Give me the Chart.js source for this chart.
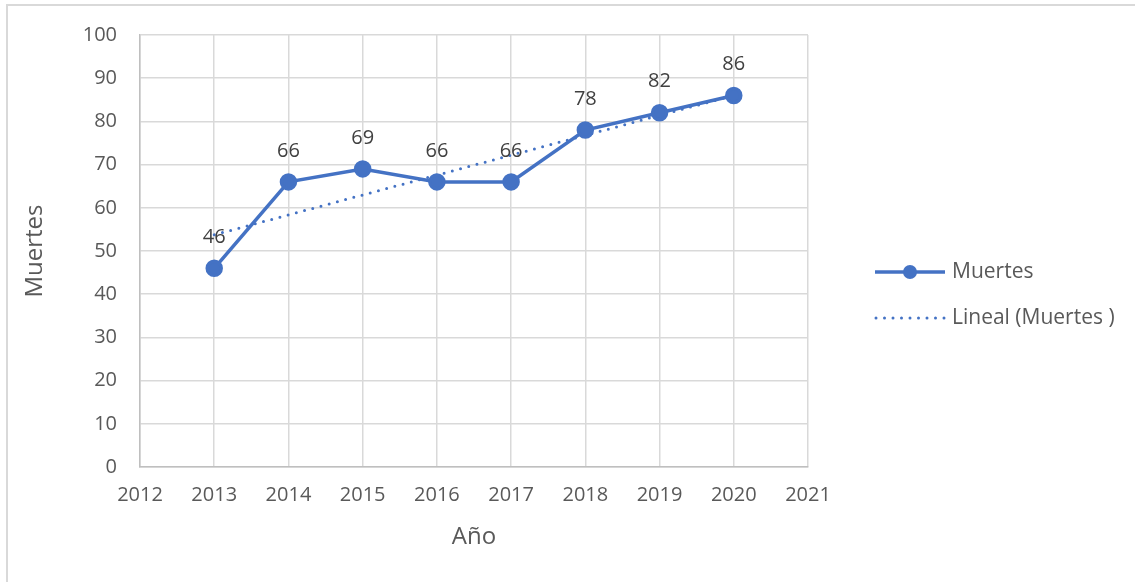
<!DOCTYPE html>
<html>
<head>
<meta charset="utf-8">
<script src="https://cdn.jsdelivr.net/npm/chart.js@4.4.1/dist/chart.umd.min.js"></script>
<style>
  html, body { margin: 0; padding: 0; background: #fff; }
  #wrap { width: 1135px; height: 582px; position: relative; }
</style>
</head>
<body>
<div id="wrap"><canvas id="chart" width="1135" height="582"></canvas></div>
<script>
// data
const years = [2013, 2014, 2015, 2016, 2017, 2018, 2019, 2020];
const muertes = [46, 66, 69, 66, 66, 78, 82, 86];
// linear trend endpoints (Excel "Lineal")
const trendYears = [2013, 2020];
const trendValues = [53.75, 86];

const blue = '#4472C4';
const textColor = '#595959';
const gridColor = '#d9d9d9';
const fontFamily = "'Open Sans', 'Liberation Sans', sans-serif";

const frame = {
    id: 'frame',
    beforeDraw(chart) {
        const ctx = chart.ctx;
        ctx.save();
        ctx.fillStyle = '#fff';
        ctx.fillRect(0, 0, chart.width, chart.height);
        ctx.strokeStyle = gridColor;
        ctx.lineWidth = 2;
        ctx.beginPath();
        ctx.moveTo(7, chart.height);
        ctx.lineTo(7, 5);
        ctx.lineTo(chart.width, 5);
        ctx.stroke();
        ctx.restore();
    }
};

// value labels above each point
const pointLabels = {
    id: 'pointLabels',
    afterDatasetsDraw(chart) {
        const ctx = chart.ctx;
        const meta = chart.getDatasetMeta(0);
        ctx.save();
        ctx.font = '20px ' + fontFamily;
        ctx.fillStyle = '#404040';
        ctx.textAlign = 'center';
        ctx.textBaseline = 'middle';
        meta.data.forEach((pt, i) => {
            ctx.fillText(String(muertes[i]), pt.x, pt.y - 31);
        });
        ctx.restore();
    }
};

// legend drawn at the right, Excel style
const sideLegend = {
    id: 'sideLegend',
    afterDraw(chart) {
        const ctx = chart.ctx;
        const x0 = 875, x1 = 945, tx = 952;
        ctx.save();
        ctx.font = '21px ' + fontFamily;
        ctx.fillStyle = textColor;
        ctx.textBaseline = 'middle';

        let y = 272;
        ctx.strokeStyle = blue;
        ctx.lineWidth = 3.5;
        ctx.beginPath();
        ctx.moveTo(x0, y);
        ctx.lineTo(x1, y);
        ctx.stroke();
        ctx.fillStyle = blue;
        ctx.beginPath();
        ctx.arc((x0 + x1) / 2, y, 7, 0, Math.PI * 2);
        ctx.fill();
        ctx.fillStyle = textColor;
        ctx.fillText(chart.data.datasets[0].label, tx, y);

        y = 318;
        ctx.lineWidth = 3;
        ctx.lineCap = 'round';
        ctx.setLineDash([0, 8.5]);
        ctx.beginPath();
        ctx.moveTo(x0 + 1, y);
        ctx.lineTo(x1, y);
        ctx.stroke();
        ctx.setLineDash([]);
        ctx.fillText(chart.data.datasets[1].label, tx, y);
        ctx.restore();
    }
};

new Chart(document.getElementById('chart'), {
    type: 'scatter',
    data: {
        datasets: [
            {
                label: 'Muertes',
                data: years.map((x, i) => ({ x: x, y: muertes[i] })),
                showLine: true,
                borderColor: blue,
                backgroundColor: blue,
                borderWidth: 3.5,
                pointRadius: 7,
                pointHoverRadius: 7,
                order: 1
            },
            {
                label: 'Lineal (Muertes )',
                data: trendYears.map((x, i) => ({ x: x, y: trendValues[i] })),
                showLine: true,
                borderColor: blue,
                borderWidth: 3,
                borderDash: [0, 8.5],
                borderCapStyle: 'round',
                pointRadius: 0,
                order: 2
            }
        ]
    },
    options: {
        responsive: false,
        animation: false,
        layout: { padding: { top: 34, right: 327, left: 0, bottom: 0 } },
        plugins: {
            legend: { display: false },
            tooltip: { enabled: false }
        },
        scales: {
            x: {
                type: 'linear',
                min: 2012,
                max: 2021,
                afterFit(scale) { scale.height = 115; },
                ticks: {
                    stepSize: 1,
                    color: textColor,
                    padding: 16,
                    font: { family: fontFamily, size: 20 },
                    callback: v => String(v)
                },
                grid: { color: gridColor, lineWidth: 1.5, drawTicks: false },
                border: { color: '#bfbfbf', width: 1.5 },
                title: {
                    display: true,
                    text: 'Año',
                    color: textColor,
                    font: { family: fontFamily, size: 24 },
                    padding: { top: 0, bottom: 30 }
                }
            },
            y: {
                min: 0,
                max: 100,
                afterFit(scale) { scale.width = 140; },
                ticks: {
                    stepSize: 10,
                    color: textColor,
                    padding: 23,
                    font: { family: fontFamily, size: 20 }
                },
                grid: { color: gridColor, lineWidth: 1.5, drawTicks: false },
                border: { color: '#bfbfbf', width: 1.5 },
                title: {
                    display: true,
                    text: 'Muertes',
                    color: textColor,
                    font: { family: fontFamily, size: 24 },
                    padding: { top: 21, bottom: 0 }
                }
            }
        }
    },
    plugins: [frame, pointLabels, sideLegend]
});
</script>
</body>
</html>
